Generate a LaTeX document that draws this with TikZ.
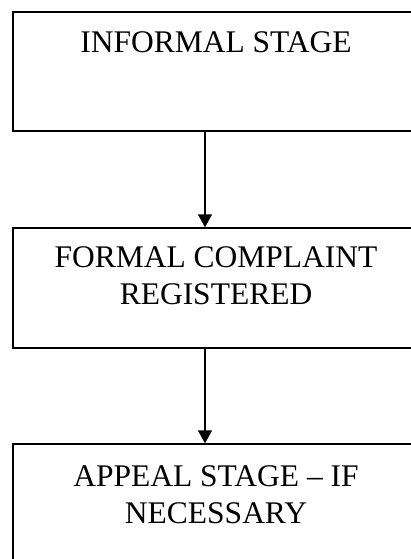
\documentclass[tikz,border=0pt]{standalone}
\usepackage{fontspec}
\setmainfont{Liberation Serif}
\usetikzlibrary{positioning,arrows.meta}

\begin{document}
\begin{tikzpicture}[x=1pt,y=-1pt,
  stage box/.style={rectangle,draw,line width=1.4pt,minimum width=406pt,inner sep=0pt},
  stage text/.style={align=center,inner sep=0pt,font=\fontsize{31.5}{37.5}\selectfont},
  step arrow/.style={line width=1.4pt,-{Triangle[length=13pt,width=14pt]}}]

  \useasboundingbox (0,0) rectangle (411,559);
  \clip (0,0) rectangle (411,559);

  \node[stage box,minimum height=119pt] (informal) at (216,71.5) {};
  \node[stage box,minimum height=120pt] (formal) at (216,288) {};
  \node[stage box,minimum height=120pt] (appeal) at (216,504) {};

  \node[stage text,below=20pt of informal.north] (t1) {INFORMAL STAGE};
  \node[stage text,below=19pt of formal.north] (t2) {FORMAL COMPLAINT\\REGISTERED};
  \node[stage text,below=22pt of appeal.north] (t3) {APPEAL STAGE -- IF\\NECESSARY};

  \draw[step arrow] ([xshift=-11pt]informal.south) -- ([xshift=-11pt]formal.north);
  \draw[step arrow] ([xshift=-11pt]formal.south) -- ([xshift=-11pt]appeal.north);
\end{tikzpicture}
\end{document}
